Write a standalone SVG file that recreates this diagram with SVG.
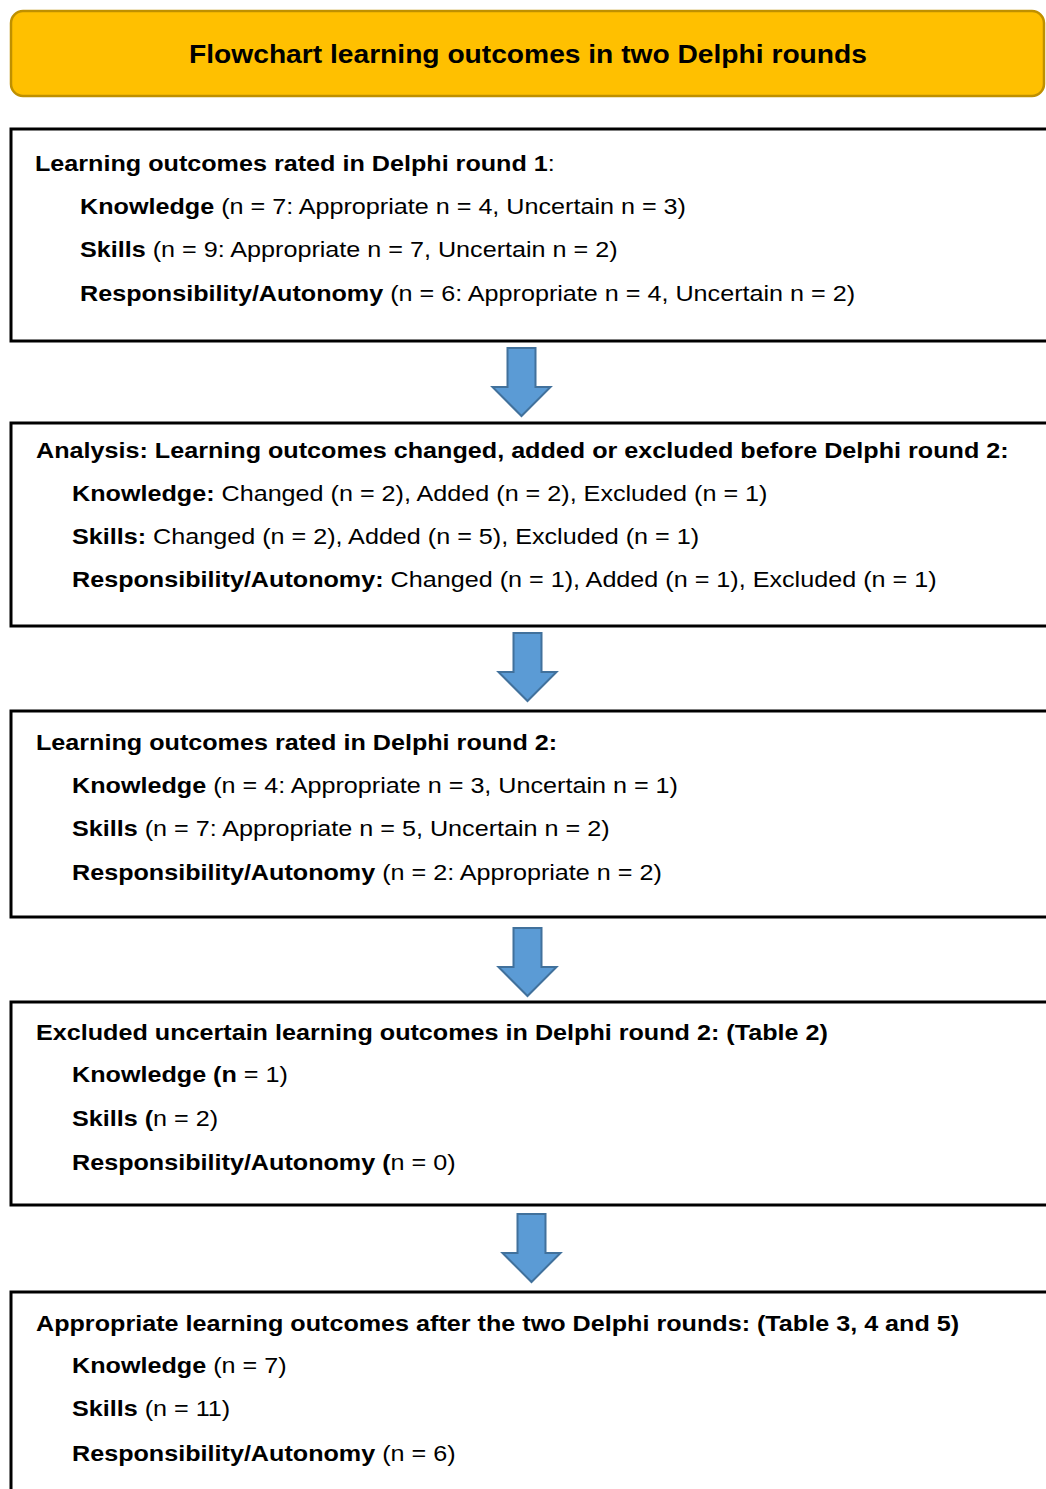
<svg xmlns="http://www.w3.org/2000/svg" width="1046" height="1489" viewBox="0 0 1046 1489">
<style>
text{font-family:"Liberation Sans",Arial,Helvetica,sans-serif;font-size:22.3px;fill:#000}
.b{font-weight:bold}
.title{font-size:25px;font-weight:bold;text-anchor:middle}
.box{fill:#fff;stroke:#000;stroke-width:3}
.arrow{fill:#5B9BD5;stroke:#41719C;stroke-width:2;stroke-linejoin:miter}
</style>
<defs>
<path id="arr" d="M-14,0 H14 V39 H29 L0,68 L-29,39 H-14 Z"/>
</defs>
<rect width="1046" height="1489" fill="#fff"/>
<g id="title">
<rect x="11" y="11" width="1033" height="85" rx="12" ry="12" fill="#FFC000" stroke="#BF9000" stroke-width="2.5"/>
<g transform="scale(1.128 1)"><text class="title" x="468.09" y="63">Flowchart learning outcomes in two Delphi rounds</text></g>
</g>
<g id="connectors">
<use href="#arr" class="arrow" transform="translate(521.5,348)"/>
<use href="#arr" class="arrow" transform="translate(527.5,633)"/>
<use href="#arr" class="arrow" transform="translate(527.5,928)"/>
<use href="#arr" class="arrow" transform="translate(531.5,1214)"/>
</g>
<g id="round1">
<rect class="box" x="11" y="129" width="1050" height="212"/>
<g transform="scale(1.128 1)">
<text x="31.03" y="171"><tspan class="b">Learning outcomes rated in Delphi round 1</tspan>:</text>
<text x="70.92" y="214"><tspan class="b">Knowledge</tspan> (n = 7: Appropriate n = 4, Uncertain n = 3)</text>
<text x="70.92" y="257"><tspan class="b">Skills</tspan> (n = 9: Appropriate n = 7, Uncertain n = 2)</text>
<text x="70.92" y="301"><tspan class="b">Responsibility/Autonomy</tspan> (n = 6: Appropriate n = 4, Uncertain n = 2)</text>
</g>
</g>
<g id="analysis">
<rect class="box" x="11" y="423" width="1050" height="203"/>
<g transform="scale(1.128 1)">
<text x="31.91" y="458" class="b">Analysis: Learning outcomes changed, added or excluded before Delphi round 2:</text>
<text x="63.83" y="501"><tspan class="b">Knowledge:</tspan> Changed (n = 2), Added (n = 2), Excluded (n = 1)</text>
<text x="63.83" y="544"><tspan class="b">Skills:</tspan> Changed (n = 2), Added (n = 5), Excluded (n = 1)</text>
<text x="63.83" y="587"><tspan class="b">Responsibility/Autonomy:</tspan> Changed (n = 1), Added (n = 1), Excluded (n = 1)</text>
</g>
</g>
<g id="round2">
<rect class="box" x="11" y="711" width="1050" height="206"/>
<g transform="scale(1.128 1)">
<text x="31.91" y="750" class="b">Learning outcomes rated in Delphi round 2:</text>
<text x="63.83" y="793"><tspan class="b">Knowledge</tspan> (n = 4: Appropriate n = 3, Uncertain n = 1)</text>
<text x="63.83" y="836"><tspan class="b">Skills</tspan> (n = 7: Appropriate n = 5, Uncertain n = 2)</text>
<text x="63.83" y="880"><tspan class="b">Responsibility/Autonomy</tspan> (n = 2: Appropriate n = 2)</text>
</g>
</g>
<g id="excluded">
<rect class="box" x="11" y="1002" width="1050" height="203"/>
<g transform="scale(1.128 1)">
<text x="31.91" y="1040" class="b">Excluded uncertain learning outcomes in Delphi round 2: (Table 2)</text>
<text x="63.83" y="1082"><tspan class="b">Knowledge (n</tspan> = 1)</text>
<text x="63.83" y="1126"><tspan class="b">Skills (</tspan>n = 2)</text>
<text x="63.83" y="1170"><tspan class="b">Responsibility/Autonomy (</tspan>n = 0)</text>
</g>
</g>
<g id="appropriate">
<rect class="box" x="11" y="1292" width="1050" height="220"/>
<g transform="scale(1.128 1)">
<text x="31.91" y="1331" class="b">Appropriate learning outcomes after the two Delphi rounds: (Table 3, 4 and 5)</text>
<text x="63.83" y="1373"><tspan class="b">Knowledge</tspan> (n = 7)</text>
<text x="63.83" y="1416"><tspan class="b">Skills</tspan> (n = 11)</text>
<text x="63.83" y="1461"><tspan class="b">Responsibility/Autonomy</tspan> (n = 6)</text>
</g>
</g>
</svg>
